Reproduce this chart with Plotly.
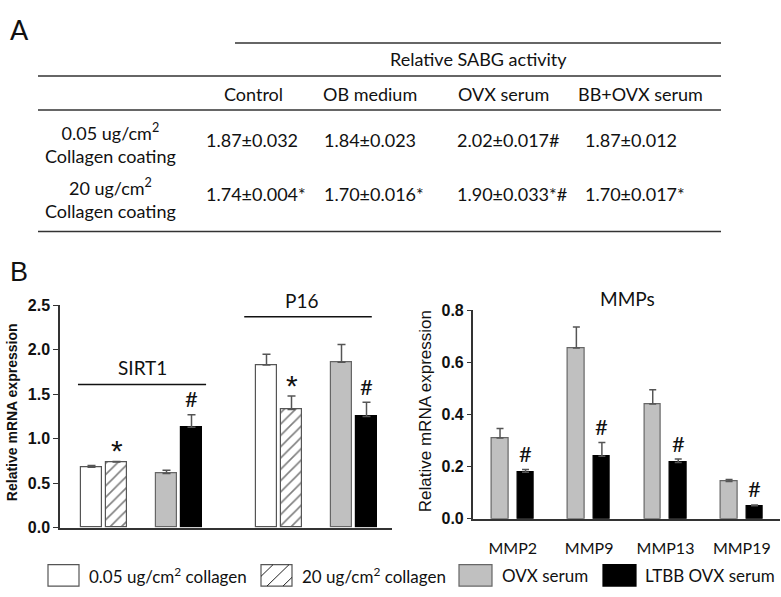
import plotly.graph_objects as go

W, H = 781, 597

# ---------------- data ----------------
table_cols = ["Control", "OB medium", "OVX serum", "BB+OVX serum"]
table_rows = ["0.05 ug/cm<sup>2</sup><br>Collagen coating", "20 ug/cm<sup>2</sup><br>Collagen coating"]
table_vals = [
    ["1.87±0.032", "1.84±0.023", "2.02±0.017#", "1.87±0.012"],
    ["1.74±0.004*", "1.70±0.016*", "1.90±0.033*#", "1.70±0.017*"],
]

genes = ["SIRT1", "P16"]
series_names = ["0.05 ug/cm<sup>2</sup> collagen", "20 ug/cm<sup>2</sup> collagen", "OVX serum", "LTBB OVX serum"]
white_vals = [0.68, 1.83]
white_err = [0.02, 0.12]
hatch_vals = [0.74, 1.33]
hatch_err = [0.006, 0.15]
gray_vals = [0.61, 1.86]
gray_err = [0.035, 0.20]
black_vals = [1.13, 1.25]
black_err = [0.14, 0.16]
left_marks = [["", "*", "", "#"], ["", "*", "", "#"]]

mmps = ["MMP2", "MMP9", "MMP13", "MMP19"]
mmp_ovx = [0.31, 0.655, 0.44, 0.143]
mmp_ovx_err = [0.036, 0.08, 0.055, 0.007]
mmp_ltbb = [0.178, 0.24, 0.216, 0.05]
mmp_ltbb_err = [0.011, 0.052, 0.013, 0.003]
mmp_marks = ["#", "#", "#", "#"]

# ---------------- helpers ----------------
def px(x):
    return x / W

def py(y):
    return 1 - y / H

FONT_TXT = "Lato"
FONT_AX = "Liberation Sans"
TXT_C = "#111111"

fig = go.Figure()

def ann(x, y, text, size, family=FONT_TXT, xanchor="center", yanchor="middle", weight="normal", **kw):
    fig.add_annotation(x=x, y=y, text=text, showarrow=False, xanchor=xanchor, yanchor=yanchor,
                       font=dict(family=family, size=size, color=TXT_C, weight=weight), **kw)

# left chart
left_offsets = [-50 / 175, -25 / 175, 25 / 175, 50 / 175]
left_width = 21 / 175
styles = [
    dict(color="white", line=dict(color="#555555", width=1.2)),
    dict(color="white", line=dict(color="#555555", width=1.2),
         pattern=dict(shape="/", fgcolor="#000000", bgcolor="white", size=8, solidity=0.2)),
    dict(color="#c0c0c0", line=dict(color="#666666", width=1.2)),
    dict(color="#000000", line=dict(color="#000000", width=1.2)),
]
left_data = [(white_vals, white_err), (hatch_vals, hatch_err), (gray_vals, gray_err), (black_vals, black_err)]
for i, (vals, errs) in enumerate(left_data):
    xs = [g + left_offsets[i] for g in range(len(genes))]
    fig.add_trace(go.Bar(
        x=xs, y=vals, width=left_width, name=series_names[i], marker=styles[i],
        showlegend=False,
        error_y=dict(type="data", array=errs, arrayminus=[0] * len(errs), symmetric=False,
                     color="#555555", thickness=1.5, width=4),
        xaxis="x", yaxis="y", hoverinfo="skip",
    ))
    for g in range(len(genes)):
        m = left_marks[g][i]
        if m:
            if m == "*":
                ann(xs[g], vals[g] + errs[g], m, 30, family=FONT_AX, xref="x", yref="y", yshift=11)
            else:
                ann(xs[g], vals[g] + errs[g], m, 22, xref="x", yref="y", yshift=16)

# right chart
r_off = 12.75 / 76.3
r_w = 16.5 / 76.3
for j, (vals, errs, st, gi) in enumerate([(mmp_ovx, mmp_ovx_err, styles[2], 2), (mmp_ltbb, mmp_ltbb_err, styles[3], 3)]):
    xs = [k + (-r_off if j == 0 else r_off) for k in range(len(mmps))]
    fig.add_trace(go.Bar(
        x=xs, y=vals, width=r_w, name=series_names[gi], marker=st, showlegend=False,
        error_y=dict(type="data", array=errs, arrayminus=[0] * len(errs), symmetric=False,
                     color="#555555", thickness=1.5, width=3.5),
        xaxis="x2", yaxis="y2", hoverinfo="skip",
    ))
    if j == 1:
        for k in range(len(mmps)):
            ann(xs[k], vals[k] + errs[k], mmp_marks[k], 22, xref="x2", yref="y2", yshift=16)

# group labels left
fig.add_shape(type="line", xref="x", yref="y", x0=-0.363, x1=0.369, y0=1.61, y1=1.61,
              line=dict(color="#111", width=1.5))
ann(0.005, 1.61, genes[0], 19, xref="x", yref="y", yanchor="bottom", yshift=3)
fig.add_shape(type="line", xref="x", yref="y", x0=1 - 0.413, x1=1 + 0.316, y0=2.37, y1=2.37,
              line=dict(color="#111", width=1.5))
ann(1 - 0.085, 2.37, genes[1], 19, xref="x", yref="y", yanchor="bottom", yshift=3)

# MMPs title
ann(px(627), py(299), "MMPs", 19, xref="paper", yref="paper")

# axis titles
ann(px(12), py(416), "Relative mRNA expression", 14, family=FONT_AX, weight="bold",
    xref="paper", yref="paper", textangle=-90)
ann(px(425), py(415), "Relative mRNA expression", 17, family=FONT_AX,
    xref="paper", yref="paper", textangle=-90)

# panel letters
ann(px(8), py(22), "A", 27, xanchor="left", xref="paper", yref="paper")
ann(px(8), py(272), "B", 27, family=FONT_AX, xanchor="left", xref="paper", yref="paper")

# ---------------- table A ----------------
line_c = dict(color="#333", width=1.5)
fig.add_shape(type="line", xref="paper", yref="paper", x0=px(235), x1=px(721), y0=py(36), y1=py(36), line=line_c)
for yy in [70, 105, 230]:
    fig.add_shape(type="line", xref="paper", yref="paper", x0=px(38), x1=px(721), y0=py(yy), y1=py(yy), line=line_c)
ann(px(478), py(53), "Relative SABG activity", 18, xref="paper", yref="paper")
col_centers = [253, 370, 503, 640]
for c, name in enumerate(table_cols):
    ann(px(col_centers[c]), py(89), name, 18, xref="paper", yref="paper")
row_y = [139, 196]
val_y = [136, 191]
val_left = [204, 322, 455, 583]
for r, rname in enumerate(table_rows):
    ann(px(110), py(row_y[r]), rname, 18, xref="paper", yref="paper", align="center")
    for c in range(len(table_cols)):
        ann(px(val_left[c]), py(val_y[r]), table_vals[r][c], 18, xanchor="left", xref="paper", yref="paper")

# ---------------- manual legend ----------------
leg_boxes = [(48, 79), (261, 292), (459, 492), (603, 636)]
leg_text_x = [87, 300, 500, 643]
leg_y0, leg_y1 = 573, 595
leg_fill = ["white", "white", "#c0c0c0", "#000000"]
leg_line = ["#555555", "#555555", "#666666", "#000000"]
for i, (bx0, bx1) in enumerate(leg_boxes):
    fig.add_shape(type="rect", xref="paper", yref="paper", x0=px(bx0), x1=px(bx1), y0=py(leg_y1), y1=py(leg_y0),
                  fillcolor=leg_fill[i], line=dict(color=leg_line[i], width=1.2))
    if i == 1:
        w_, h_ = bx1 - bx0, leg_y1 - leg_y0
        for k in [-10, 6, 22]:
            u0 = max(0, k)
            u1 = min(w_, h_ + k)
            fig.add_shape(type="line", xref="paper", yref="paper",
                          x0=px(bx0 + u0), y0=py(leg_y1 - (u0 - k)),
                          x1=px(bx0 + u1), y1=py(leg_y1 - (u1 - k)),
                          line=dict(color="#222", width=1))
    ann(px(leg_text_x[i]), py((leg_y0 + leg_y1) / 2), series_names[i], 17, xanchor="left",
        xref="paper", yref="paper")

# ---------------- layout ----------------
fig.update_layout(
    width=W, height=H, margin=dict(l=0, r=0, t=0, b=0),
    paper_bgcolor="white", plot_bgcolor="white",
    barmode="overlay", bargap=0, showlegend=False,
    xaxis=dict(domain=[px(60), px(392)], range=[-0.4657, 1.4314], showticklabels=False,
               ticks="", showgrid=False, zeroline=False, showline=True, linecolor="#333", linewidth=1.5),
    yaxis=dict(domain=[py(535), py(306)], range=[0, 2.5], tickvals=[0, 0.5, 1.0, 1.5, 2.0, 2.5],
               tickformat=".1f", ticks="outside", ticklen=5, tickcolor="#333", showgrid=False,
               zeroline=False, showline=True, linecolor="#333", linewidth=1.5,
               tickfont=dict(family=FONT_AX, size=16, color=TXT_C, weight="bold")),
    xaxis2=dict(domain=[px(472.7), px(780)], range=[-0.525, 3.50], tickvals=list(range(len(mmps))),
                ticktext=mmps, ticks="outside", ticklen=14, tickcolor="rgba(0,0,0,0)",
                showgrid=False, zeroline=False, showline=True, linecolor="#333", linewidth=1.5,
                tickfont=dict(family=FONT_TXT, size=16, color=TXT_C), anchor="y2"),
    yaxis2=dict(domain=[py(525.7), py(311)], range=[0, 0.8], tickvals=[0, 0.2, 0.4, 0.6, 0.8],
                tickformat=".1f", ticks="outside", ticklen=4, tickcolor="#333", showgrid=False,
                zeroline=False, showline=True, linecolor="#333", linewidth=1.5, anchor="x2",
                tickfont=dict(family=FONT_AX, size=16, color=TXT_C, weight="bold")),
)

fig.write_html("out.html", config={"displayModeBar": False},
               post_script="document.body.style.margin='0';document.body.style.overflow='hidden';")
